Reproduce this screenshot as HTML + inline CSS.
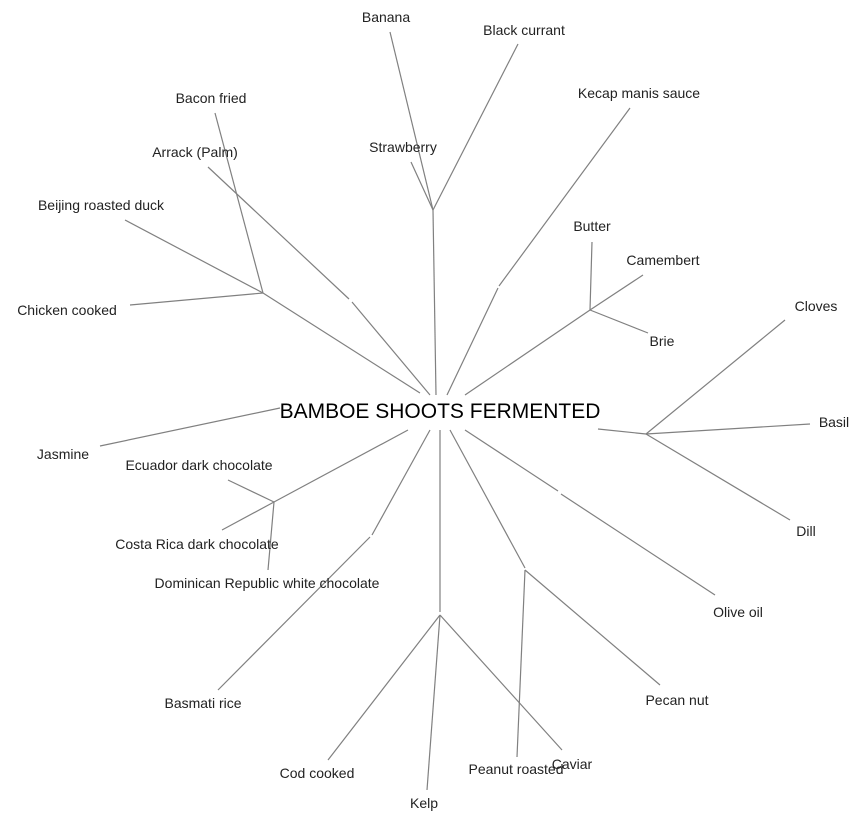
<!DOCTYPE html>
<html><head><meta charset="utf-8"><style>
html,body{margin:0;padding:0;background:#fff;}
svg{display:block;}
text{font-family:"Liberation Sans",Arial,sans-serif;font-size:14px;fill:#222;}
</style></head><body>
<svg width="864" height="821" viewBox="0 0 864 821" xmlns="http://www.w3.org/2000/svg">
<g stroke="#808080" stroke-width="1.2" fill="none">
<line x1="436" y1="395" x2="433" y2="210"/>
<line x1="433" y1="210" x2="390" y2="32"/>
<line x1="433" y1="210" x2="518" y2="44"/>
<line x1="433" y1="210" x2="411" y2="162"/>
<line x1="447" y1="395" x2="498" y2="288"/>
<line x1="499" y1="286" x2="630" y2="108"/>
<line x1="465" y1="395" x2="590" y2="310"/>
<line x1="590" y1="310" x2="592" y2="242"/>
<line x1="590" y1="310" x2="643" y2="275"/>
<line x1="590" y1="310" x2="648" y2="333"/>
<line x1="420" y1="393" x2="263" y2="293"/>
<line x1="263" y1="293" x2="130" y2="305"/>
<line x1="263" y1="293" x2="125" y2="220"/>
<line x1="263" y1="293" x2="215" y2="113"/>
<line x1="208" y1="167" x2="349" y2="299"/>
<line x1="352" y1="302" x2="430" y2="395"/>
<line x1="100" y1="446" x2="280" y2="408"/>
<line x1="598" y1="429" x2="646" y2="434"/>
<line x1="646" y1="434" x2="785" y2="320"/>
<line x1="646" y1="434" x2="810" y2="424"/>
<line x1="646" y1="434" x2="790" y2="520"/>
<line x1="408" y1="430" x2="274" y2="502"/>
<line x1="274" y1="502" x2="228" y2="480"/>
<line x1="274" y1="502" x2="222" y2="530"/>
<line x1="274" y1="502" x2="268" y2="570"/>
<line x1="218" y1="690" x2="370" y2="537"/>
<line x1="372" y1="535" x2="430" y2="430"/>
<line x1="440" y1="430" x2="440" y2="612"/>
<line x1="440" y1="615" x2="328" y2="760"/>
<line x1="440" y1="615" x2="427" y2="790"/>
<line x1="440" y1="615" x2="562" y2="750"/>
<line x1="450" y1="430" x2="525" y2="568"/>
<line x1="525" y1="570" x2="517" y2="757"/>
<line x1="525" y1="570" x2="660" y2="685"/>
<line x1="465" y1="430" x2="558" y2="491"/>
<line x1="561" y1="494" x2="715" y2="595"/>
</g>
<text x="440" y="418" text-anchor="middle" style="font-size:21px;fill:#000">BAMBOE SHOOTS FERMENTED</text>
<text x="386" y="22" text-anchor="middle">Banana</text>
<text x="524" y="35" text-anchor="middle">Black currant</text>
<text x="639" y="98" text-anchor="middle">Kecap manis sauce</text>
<text x="403" y="152" text-anchor="middle">Strawberry</text>
<text x="211" y="103" text-anchor="middle">Bacon fried</text>
<text x="195" y="157" text-anchor="middle">Arrack (Palm)</text>
<text x="101" y="210" text-anchor="middle">Beijing roasted duck</text>
<text x="67" y="315" text-anchor="middle">Chicken cooked</text>
<text x="592" y="231" text-anchor="middle">Butter</text>
<text x="663" y="265" text-anchor="middle">Camembert</text>
<text x="662" y="346" text-anchor="middle">Brie</text>
<text x="816" y="311" text-anchor="middle">Cloves</text>
<text x="834" y="427" text-anchor="middle">Basil</text>
<text x="806" y="536" text-anchor="middle">Dill</text>
<text x="63" y="459" text-anchor="middle">Jasmine</text>
<text x="199" y="470" text-anchor="middle">Ecuador dark chocolate</text>
<text x="197" y="549" text-anchor="middle">Costa Rica dark chocolate</text>
<text x="267" y="588" text-anchor="middle">Dominican Republic white chocolate</text>
<text x="203" y="708" text-anchor="middle">Basmati rice</text>
<text x="317" y="778" text-anchor="middle">Cod cooked</text>
<text x="424" y="808" text-anchor="middle">Kelp</text>
<text x="516" y="774" text-anchor="middle">Peanut roasted</text>
<text x="572" y="769" text-anchor="middle">Caviar</text>
<text x="677" y="705" text-anchor="middle">Pecan nut</text>
<text x="738" y="617" text-anchor="middle">Olive oil</text>
</svg>
</body></html>
